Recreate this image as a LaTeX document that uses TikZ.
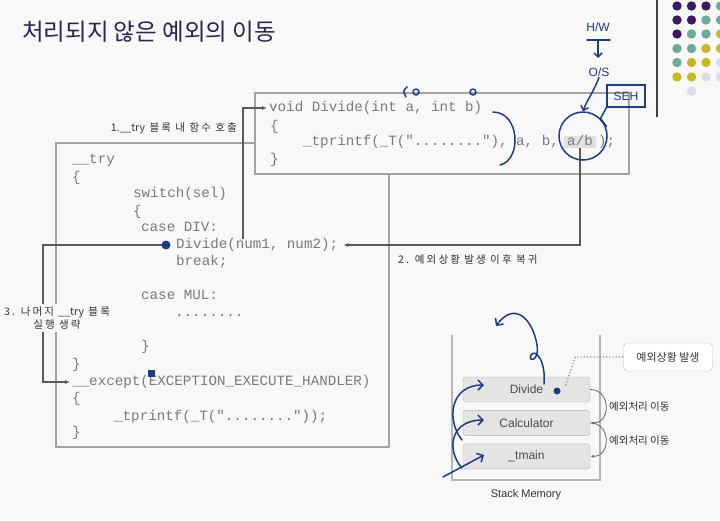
\documentclass[tikz,border=0pt]{standalone}
\usepackage{fontspec}
\usetikzlibrary{arrows.meta,positioning}
\newfontfamily\krfont{Noto Sans CJK KR}
\newfontfamily\krwide[LetterSpace=20]{Noto Sans CJK KR}
\newfontfamily\codefont{Liberation Mono}
\newfontfamily\stackfont{Liberation Sans}

\definecolor{paper}{HTML}{F8F8F8}
\definecolor{titleink}{HTML}{2E2250}
\definecolor{codegray}{HTML}{7A7A7A}
\definecolor{framegray}{HTML}{A3A3A3}
\definecolor{wiregray}{HTML}{5A5A5A}
\definecolor{penblue}{HTML}{1D3D80}
\definecolor{dotpurple}{HTML}{3A1C5C}
\definecolor{dotteal}{HTML}{6FA89C}
\definecolor{dotyellow}{HTML}{C9B826}
\definecolor{dotgray}{HTML}{DCDCE4}
\definecolor{stackfill}{HTML}{E4E4E4}
\definecolor{stackline}{HTML}{B5B5B5}

\tikzset{
  code/.style={font={\codefont\fontsize{14.2}{16}\selectfont}, text=codegray, anchor=west, inner sep=0pt, text height=9pt, text depth=3pt},
  note/.style={font={\krwide\fontsize{10.5}{13}\selectfont}, text=black!80, inner sep=1pt},
  wire/.style={draw=wiregray, line width=1.3pt, -{Latex[length=5pt,width=4pt]}},
  frame/.style={draw=framegray, line width=2.6pt},
  ink/.style={draw=penblue, line width=1.5pt, line cap=round, line join=round},
  inktext/.style={text=penblue, font={\stackfont\fontsize{12}{14}\selectfont}, inner sep=1pt},
  stackbox/.style={draw=stackline, fill=stackfill, rounded corners=3pt, minimum width=127pt, minimum height=25pt, font={\stackfont\fontsize{12}{14}\selectfont}, text=black!70},
  hop/.style={draw=black!60, line width=0.8pt, -{Latex[length=4pt,width=3pt]}},
  hoptext/.style={font={\krfont\fontsize{10.5}{13}\selectfont}, text=black!80, anchor=west, inner sep=0pt}
}

\begin{document}
\begin{tikzpicture}[x=1pt,y=-1pt]
\fill[paper] (0,0) rectangle (720,520);
\useasboundingbox (0,0) rectangle (720,520);

% title
\node[anchor=west, inner sep=0pt, text=titleink, font={\krfont\fontsize{23.5}{28}\selectfont}] (title) at (22,32) {처리되지 않은 예외의 이동};

% rule and dot grid at the top right
\draw[black!75, line width=1.5pt] (657,0) -- (657,117);
\fill[dotpurple] (677,6) circle (4.7pt); \fill[dotpurple] (691.5,6) circle (4.7pt); \fill[dotpurple] (706,6) circle (4.7pt); \fill[dotteal] (720.5,6) circle (4.7pt);
\fill[dotpurple] (677,20) circle (4.7pt); \fill[dotpurple] (691.5,20) circle (4.7pt); \fill[dotteal] (706,20) circle (4.7pt); \fill[dotteal] (720.5,20) circle (4.7pt);
\fill[dotpurple] (677,34) circle (4.7pt); \fill[dotteal] (691.5,34) circle (4.7pt); \fill[dotteal] (706,34) circle (4.7pt); \fill[dotyellow] (720.5,34) circle (4.7pt);
\fill[dotteal] (677,48.5) circle (4.7pt); \fill[dotteal] (691.5,48.5) circle (4.7pt); \fill[dotyellow] (706,48.5) circle (4.7pt); \fill[dotyellow] (720.5,48.5) circle (4.7pt);
\fill[dotteal] (677,62.5) circle (4.7pt); \fill[dotyellow] (691.5,62.5) circle (4.7pt); \fill[dotyellow] (706,62.5) circle (4.7pt); \fill[dotgray] (720.5,62.5) circle (4.7pt);
\fill[dotyellow] (677,77) circle (4.7pt); \fill[dotyellow] (691.5,77) circle (4.7pt); \fill[dotgray] (706,77) circle (4.7pt); \fill[dotgray] (720.5,77) circle (4.7pt);
\fill[dotgray] (691.5,91) circle (4.7pt);

% the two code boxes
\draw[frame] (56,143) rectangle (389,447);
\draw[frame, fill=paper] (255,93) rectangle (629,174);

% __try / __except block
\node[code] (try) at (72,160) {\_\_try};
\node[code] (open1) at (72,178) {\{};
\node[code] (switch) at (133,194) {switch(sel)};
\node[code] (open2) at (133,212) {\{};
\node[code] (casediv) at (141,228) {case DIV:};
\node[code] (call) at (176,245) {Divide(num1, num2);};
\node[code] (brk) at (176,262) {break;};
\node[code] (casemul) at (141,296) {case MUL:};
\node[code] (dots) at (175,313) {........};
\node[code] (close2) at (141,347) {\}};
\node[code] (close1) at (72,365) {\}};
\node[code] (except) at (72,382) {\_\_except(EXCEPTION\_EXECUTE\_HANDLER)};
\node[code] (open3) at (72,399) {\{};
\node[code] (print2) at (114,417) {\_tprintf(\_T("........"));};
\node[code] (close3) at (72,433) {\}};

% Divide function
\node[code] (decl) at (269,108) {void Divide(int a, int b)};
\node[code] (open4) at (270,127) {\{};
\node[code] (print1) at (303,142) {\_tprintf(\_T("........"), a, b,};
\node[code, fill=black!12, inner xsep=3pt, right=5pt of print1] (ab) {a/b};
\node[code, right=2pt of ab] (semi) {);};
\node[code] (close4) at (270,160) {\}};

% flow arrows
\coordinate (skip) at (43,320);
\draw[wire] ([xshift=67pt]call.north west) |- ([xshift=-2pt]decl.west);
\draw[wire] (ab.south) |- ([xshift=5pt]call.east);
\draw[wire] ([xshift=-8pt]call.west) -| (skip) |- ([xshift=-2pt]except.west);

\node[note, anchor=east] (lbl1) at (238,128) {{\krfont 1.\_\_try} 블록 내 함수 호출};
\node[note, anchor=west] (lbl2) at (397,260) {2. 예외상황 발생 이후 복귀};
\node[note, fill=paper, align=center, inner sep=3pt] (lbl3) at (57,318) {3. 나머지 {\krfont\_\_try} 블록\\실행 생략};

% stack memory
\draw[stackline, line width=1.2pt] (452,335) -- (452,480) -- (600,480) -- (600,335);
\node[stackbox] (sdiv) at (526.5,389.5) {Divide};
\node[stackbox, below=8pt of sdiv] (scalc) {Calculator};
\node[stackbox, below=8pt of scalc] (smain) {\_tmain};
\node[font={\stackfont\fontsize{11}{13}\selectfont}, text=black!80] (stackcap) at (526,495) {Stack Memory};

\draw[hop] (sdiv.east) to[out=0, in=0, looseness=1.6] (scalc.east);
\draw[hop] (scalc.east) to[out=0, in=0, looseness=1.6] (smain.east);
\node[hoptext] (hop1) at (609,407) {예외처리 이동};
\node[hoptext] (hop2) at (609,441) {예외처리 이동};

\node[draw=black!25, fill=white, rounded corners=4pt, minimum width=89pt, minimum height=28pt, font={\krfont\fontsize{11}{13}\selectfont}, text=black!80] (fault) at (668,357) {예외상황 발생};
\coordinate (faultpt) at (565,387);
\draw[black!45, dotted, line width=1.2pt] (fault.west) -- ++(-48,0) -- (faultpt);

% pen marks
\node[inktext] (hw) at (598,27) {H/W};
\draw[ink] (587,40) -- (610,40);
\draw[ink, -{Straight Barb[length=4pt]}] (598,40) -- (598,58);
\node[inktext] (os) at (599,72) {O/S};
\node[inktext, draw=penblue, line width=1.3pt, minimum width=38pt, minimum height=22pt] (seh) at (626,96) {SEH};
\node[ink, draw, circle, minimum size=48pt, inner sep=0pt] (mark) at (583,136) {};
\draw[ink, -{Straight Barb[length=4pt]}] (os.south) .. controls (592,95) and (587,100) .. (mark.north);
\draw[ink] (seh.south west) -- (mark.north east) -- ++(6,8);
\draw[ink] (493,112) .. controls (520,112) and (522,160) .. (500,165);
\draw[ink] (407,87) .. controls (403,91) .. (406,97);
\draw[ink] (416,92) circle (3pt);
\draw[ink] (473,92) circle (3pt);
\fill[penblue] (166,245) circle (4.5pt);
\fill[penblue] (148,370) rectangle (155,377);
\fill[penblue] (557,391) circle (3.5pt);
\draw[ink, -{Straight Barb[length=5pt]}] (544,384) .. controls (546,362) and (536,348) .. (531,355) .. controls (527,362) and (540,362) .. (537,345) .. controls (533,320) and (515,300) .. (496,326);
\draw[ink, -{Straight Barb[length=5pt]}] (443,477) -- (484,455);
\draw[ink, -{Straight Barb[length=5pt]}] (462,468) .. controls (446,450) and (450,420) .. (484,420);
\draw[ink, -{Straight Barb[length=5pt]}] (462,440) .. controls (446,420) and (450,385) .. (484,385);
\end{tikzpicture}
\end{document}
